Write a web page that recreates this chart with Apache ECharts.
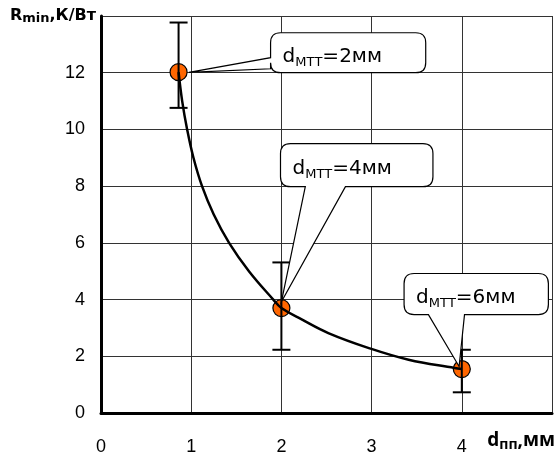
<!DOCTYPE html>
<html><head><meta charset="utf-8">
<script src="https://cdn.jsdelivr.net/npm/echarts@6/dist/echarts.min.js"></script>
<style>html,body{margin:0;padding:0;background:#fff}#c{width:558px;height:457px}</style>
</head><body><div id="c"></div>
<script>
// ---- data ----
const pointsX = [0.86, 2.0, 4.0];
const pointsY = [12.02, 3.70, 1.55];
const errLow  = [10.76, 2.23, 0.73];
const errHigh = [13.77, 5.31, 2.23];
const curveX = [0.86, 0.90, 0.955, 1.025, 1.12, 1.25, 1.42, 1.64, 1.91, 2.0, 2.23, 2.52, 2.97, 3.41, 3.92, 4.0];
const curveY = [12.02, 11.0, 10.0, 9.0, 8.0, 7.0, 6.0, 5.0, 4.0, 3.70, 3.29, 2.82, 2.29, 1.88, 1.59, 1.55];
const calloutValues = ['2мм', '4мм', '6мм'];
const xTicks = [0, 1, 2, 3, 4];
const yTicks = [0, 2, 4, 6, 8, 10, 12];

// ---- callout layout (data-space anchors) ----
const calloutLayout = [
  {box: [1.88, 13.41, 3.60, 12.0], side: 'left', base: [12.14, 12.53], tip: [0.975, 12.01]},
  {box: [1.99, 9.5, 3.68, 7.98], side: 'bottom', base: [2.265, 2.71], tip: [2.0, 3.92]},
  {box: [3.36, 4.92, 4.96, 3.47], side: 'bottom', base: [3.63, 4.03], tip: [3.97, 1.64]}
];

const FONT = '"Liberation Sans", Arial, sans-serif';
const WIDE = '"DejaVu Sans", sans-serif';
const chart = echarts.init(document.getElementById('c'));

function calloutItem(params, api) {
  const i = params.dataIndex;
  const L = calloutLayout[i];
  const p1 = api.coord([L.box[0], L.box[1]]);
  const p2 = api.coord([L.box[2], L.box[3]]);
  const t = api.coord(L.tip);
  const x1 = p1[0], y1 = p1[1], x2 = p2[0], y2 = p2[1];
  const r = 10;
  let d = `M${x1 + r} ${y1} L${x2 - r} ${y1} Q${x2} ${y1} ${x2} ${y1 + r} L${x2} ${y2 - r} Q${x2} ${y2} ${x2 - r} ${y2} `;
  if (L.side === 'bottom') {
    const bx1 = api.coord([L.base[0], 0])[0], bx2 = api.coord([L.base[1], 0])[0];
    d += `L${bx2} ${y2} L${t[0]} ${t[1]} L${bx1} ${y2} `;
  }
  d += `L${x1 + r} ${y2} Q${x1} ${y2} ${x1} ${y2 - r} `;
  if (L.side === 'left') {
    const by1 = api.coord([0, L.base[0]])[1], by2 = api.coord([0, L.base[1]])[1];
    d += `L${x1} ${by1} L${t[0]} ${t[1]} L${x1} ${by2} `;
  }
  d += `L${x1} ${y1 + r} Q${x1} ${y1} ${x1 + r} ${y1} Z`;
  return {
    type: 'group',
    children: [
      {type: 'path', shape: {pathData: d}, style: {fill: '#fff', stroke: '#000', lineWidth: 1.2}},
      {type: 'text', style: {
        x: x1 + 12, y: (y1 + y2) / 2 + 4, verticalAlign: 'middle', align: 'left',
        text: '{m|d}{s|МТТ}{m|=' + calloutValues[i] + '}',
        rich: {
          m: {fontSize: 20, lineHeight: 24, fontFamily: WIDE, fill: '#000'},
          s: {fontSize: 13, lineHeight: 13, fontFamily: WIDE, fill: '#000', verticalAlign: 'bottom'}
        }
      }}
    ]
  };
}

function errItem(params, api) {
  const x = api.value(0);
  const lo = api.coord([x, api.value(1)]);
  const hi = api.coord([x, api.value(2)]);
  const w = 9;
  const st = {stroke: '#000', lineWidth: 2};
  return {type: 'group', children: [
    {type: 'line', shape: {x1: lo[0], y1: lo[1], x2: hi[0], y2: hi[1]}, style: st},
    {type: 'line', shape: {x1: lo[0] - w, y1: lo[1], x2: lo[0] + w, y2: lo[1]}, style: st},
    {type: 'line', shape: {x1: hi[0] - w, y1: hi[1], x2: hi[0] + w, y2: hi[1]}, style: st}
  ]};
}

chart.setOption({
  animation: false,
  backgroundColor: '#fff',
  grid: {left: 101, top: 16, right: 4, bottom: 44, containLabel: false},
  xAxis: {
    type: 'value', min: 0, max: 5, interval: 1,
    name: '{b|d}{s|пп}{b|,мм}', nameLocation: 'end', nameGap: 0,
    nameTextStyle: {
      align: 'right', verticalAlign: 'top', padding: [17, -3, 0, 0],
      rich: {
        b: {fontSize: 19, fontWeight: 'bold', fontFamily: '"Open Sans", sans-serif', color: '#000', lineHeight: 22},
        s: {fontSize: 14, fontWeight: 'bold', fontFamily: '"Open Sans", sans-serif', color: '#000', lineHeight: 13, verticalAlign: 'bottom'}
      }
    },
    axisLine: {show: true, lineStyle: {color: '#000', width: 3}},
    axisTick: {show: false},
    splitLine: {show: true, lineStyle: {color: '#333', width: 1}},
    axisLabel: {
      margin: 25, fontSize: 18, fontFamily: FONT, color: '#000',
      formatter: v => xTicks.indexOf(v) >= 0 ? String(v) : ''
    }
  },
  yAxis: {
    type: 'value', min: 0, max: 14, interval: 2,
    name: '{b|R}{s|min}{b|,К/Вт}', nameLocation: 'end', nameGap: 0,
    nameTextStyle: {
      align: 'right', verticalAlign: 'middle', padding: [0, 5, 0, 0],
      rich: {
        b: {fontSize: 16, fontWeight: 'bold', fontFamily: WIDE, color: '#000', lineHeight: 18},
        s: {fontSize: 13, fontWeight: 'bold', fontFamily: WIDE, color: '#000', lineHeight: 12, verticalAlign: 'bottom'}
      }
    },
    axisLine: {show: true, lineStyle: {color: '#000', width: 3}},
    axisTick: {show: false},
    splitLine: {show: true, lineStyle: {color: '#333', width: 1}},
    axisLabel: {
      margin: 16, fontSize: 18, fontFamily: FONT, color: '#000',
      formatter: v => yTicks.indexOf(v) >= 0 ? String(v) : ''
    }
  },
  series: [
    {
      type: 'scatter', z: 2,
      data: pointsX.map((x, i) => [x, pointsY[i]]),
      symbolSize: 17,
      itemStyle: {color: '#FF6600', borderColor: '#000', borderWidth: 1.2, opacity: 1}
    },
    {
      type: 'line', z: 3, smooth: 0.4, showSymbol: false,
      data: curveX.map((x, i) => [x, curveY[i]]),
      lineStyle: {color: '#000', width: 2.5}
    },
    {
      type: 'custom', z: 4,
      renderItem: errItem,
      data: pointsX.map((x, i) => [x, errLow[i], errHigh[i]])
    },
    {
      type: 'custom', z: 5,
      renderItem: calloutItem,
      data: calloutValues.map((v, i) => [pointsX[i], pointsY[i]])
    }
  ]
});
</script></body></html>
